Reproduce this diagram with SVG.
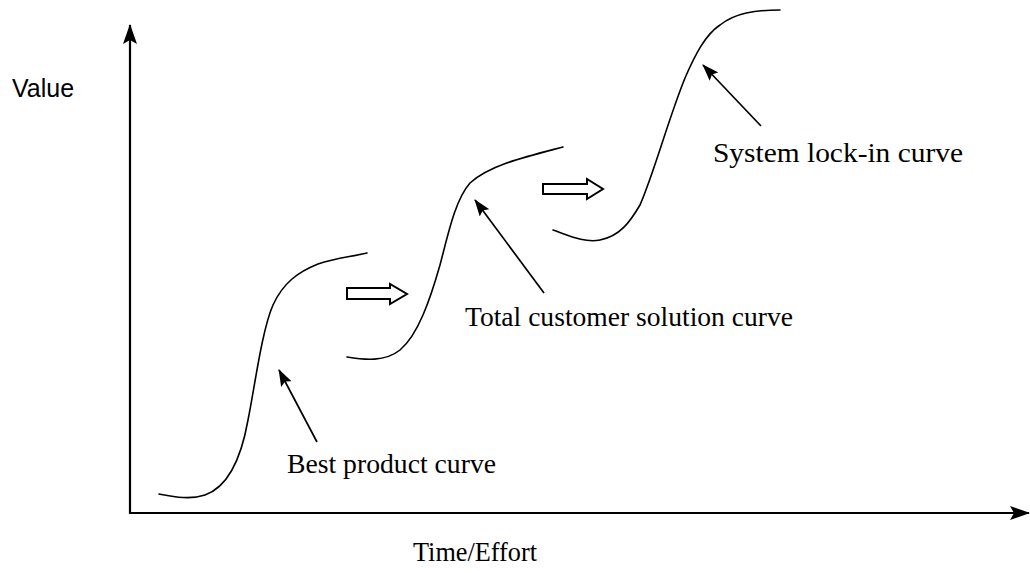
<svg xmlns="http://www.w3.org/2000/svg" width="1030" height="573" viewBox="0 0 1030 573">
<defs>
<style>
.axis{stroke:#000;stroke-width:2.2;fill:none}
.curve{stroke:#000;stroke-width:1.6;fill:none;stroke-linecap:round}
.ptr{stroke:#000;stroke-width:1.7;fill:none}
.hollow{stroke:#000;stroke-width:2;fill:#fff;stroke-linejoin:miter}
.lbl{font-family:"Liberation Serif","Times New Roman",serif;font-size:28px;fill:#000}
.sans{font-family:"Liberation Sans",Arial,sans-serif;font-size:25px;fill:#000}
</style>
<marker id="axhead" viewBox="0 0 20 14" refX="19" refY="7" markerWidth="20" markerHeight="14" markerUnits="userSpaceOnUse" orient="auto">
<path d="M0,0 L20,7 L0,14 L4,7 z" fill="#000"/>
</marker>
<marker id="ptrhead" viewBox="0 0 17 12" refX="16" refY="6" markerWidth="17" markerHeight="12" markerUnits="userSpaceOnUse" orient="auto">
<path d="M0,0 L17,6 L0,12 L3,6 z" fill="#000"/>
</marker>
</defs>
<rect width="1030" height="573" fill="#fff"/>
<g id="axes">
<line class="axis" x1="130" y1="514" x2="130" y2="25" marker-end="url(#axhead)"/>
<line class="axis" x1="129" y1="513" x2="1029" y2="513" marker-end="url(#axhead)"/>
<text class="sans" x="12" y="97">Value</text>
<text class="lbl" x="413" y="561" textLength="124" lengthAdjust="spacingAndGlyphs">Time/Effort</text>
</g>
<g id="best-product-curve">
<path class="curve" d="M159,494 C175,497 190,500 205,495 C225,488 240,465 248,420 C255,385 262,330 273,305 C283,283 298,272 318,264 C336,258 350,257 367,253"/>
<text class="lbl" x="287" y="473" textLength="209" lengthAdjust="spacingAndGlyphs">Best product curve</text>
</g>
<g id="total-customer-solution-curve">
<path class="curve" d="M347,357 C365,360 385,362 400,350 C418,335 430,300 440,265 C448,235 455,200 470,183 C490,165 525,157 563,147"/>
<text class="lbl" x="465" y="326" textLength="328" lengthAdjust="spacingAndGlyphs">Total customer solution curve</text>
</g>
<g id="system-lock-in-curve">
<path class="curve" d="M553,230 C570,236 585,243 600,240 C620,236 630,222 640,205 C655,170 668,120 685,78 C695,55 705,35 720,25 C735,13 755,10 780,10"/>
<text class="lbl" x="713" y="162" textLength="250" lengthAdjust="spacingAndGlyphs">System lock-in curve</text>
</g>
<g id="transition-arrows">
<polygon class="hollow" points="347,288 390,288 390,284 407,294 390,304 390,299 347,299"/>
<polygon class="hollow" points="543,184 587,184 587,179 603,189 587,199 587,194 543,194"/>
</g>
<g id="connectors">
<line class="ptr" x1="317" y1="442" x2="279" y2="370" marker-end="url(#ptrhead)"/>
<line class="ptr" x1="544" y1="293" x2="475" y2="200" marker-end="url(#ptrhead)"/>
<line class="ptr" x1="761" y1="126" x2="703" y2="65" marker-end="url(#ptrhead)"/>
</g>
</svg>
